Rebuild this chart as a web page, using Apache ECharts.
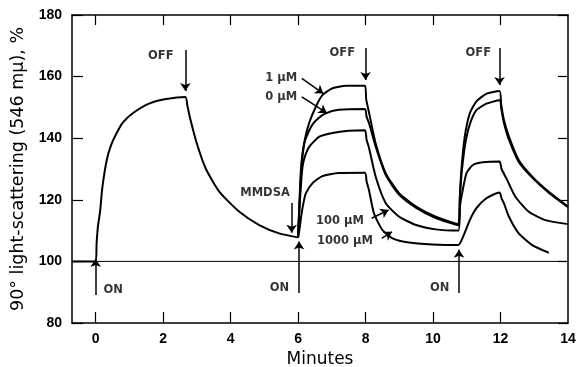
<!DOCTYPE html>
<html><head><meta charset="utf-8">
<script src="https://cdn.jsdelivr.net/npm/echarts@6/dist/echarts.min.js"></script>
<style>html,body{margin:0;padding:0;background:#fff}#c{width:577px;height:367px}</style>
</head><body><div id="c"></div>
<script>
// ---- data ----
const xTickValues = [0, 2, 4, 6, 8, 10, 12, 14];
const yTickValues = [80, 100, 120, 140, 160, 180];
const baseline = [[-0.7, 100], [14, 100]];
const firstCycle = [[-0.7,100],[0,100],[0.03,106],[0.07,111.5],[0.13,116],[0.2,124],[0.33,132.9],[0.45,137.5],[0.62,141.6],[0.8,145],[1.1,148.1],[1.6,151.3],[2.09,152.7],[2.66,153.4],
  [2.72,150.5],[2.8,146.5],[3.0,138.3],[3.27,130],[3.67,122.6],[4.26,116.1],[4.85,111.8],[5.44,109.1],[6.0,107.8]];
const curve1uM = [[6.0,107.8],[6.04,118],[6.08,127],[6.13,134],[6.2,139.5],[6.33,145],[6.53,150.3],[6.72,154],[7.02,156.2],[7.42,157],[7.98,157],
  [8.02,152.5],[8.1,148.5],[8.3,138.3],[8.6,128.6],[9.0,122.1],[9.5,117.8],[10.08,114.5],[10.75,112.1],
  [10.79,120],[10.84,129.7],[10.94,140.5],[11.09,148.1],[11.28,151.9],[11.58,154.4],[11.97,155.3],
  [12.02,151],[12.1,146],[12.25,140.5],[12.54,132.9],[12.94,127.5],[13.43,122.6],[14.0,117.8]];
const curve0uM = [[6.0,107.8],[6.04,119],[6.08,129],[6.13,135],[6.2,139],[6.33,142.5],[6.43,144.5],[6.6,146.5],[6.8,148],[7.2,149.2],[7.98,149.5],
  [8.03,147],[8.1,145],[8.3,137.3],[8.6,128],[9.0,121.6],[9.5,117.4],[10.08,114.1],[10.75,111.8],
  [10.8,122],[10.86,130],[10.96,138.5],[11.09,144.5],[11.28,149],[11.58,151.2],[11.97,152.3],
  [12.03,149],[12.1,145],[12.25,139.5],[12.54,132.3],[12.94,127.2],[13.43,122.3],[14.0,117.6]];
const curve100uM = [[6.0,107.8],[6.04,117],[6.08,124],[6.13,130.5],[6.2,134],[6.33,137.2],[6.63,140.5],[7.02,141.7],[7.5,142.4],[7.98,142.6],
  [8.03,139.5],[8.1,137],[8.3,127.5],[8.6,118.9],[9.0,114.5],[9.5,111.8],[10.08,110.4],[10.75,110],
  [10.8,118],[10.86,122],[10.99,128.6],[11.18,131.3],[11.48,132.2],[11.97,132.4],
  [12.03,130],[12.2,126.4],[12.44,121],[12.84,116.1],[13.33,113.4],[14.0,112.1]];
const curve1000uM = [[6.0,107.8],[6.05,111],[6.09,114.5],[6.16,119],[6.23,122.1],[6.43,125.4],[6.72,127.7],[7.2,128.7],[7.98,128.8],
  [8.03,126],[8.1,123.2],[8.25,115.6],[8.5,110.2],[8.8,107.5],[9.29,106.1],[9.98,105.5],[10.75,105.3],
  [10.89,108],[11.09,113.4],[11.28,117.2],[11.58,120.5],[11.97,122.4],
  [12.03,120.5],[12.1,118.9],[12.25,114.5],[12.54,109.1],[12.94,105.3],[13.43,102.8]];
// annotations: [x, y, text]
const annotTexts = [[1.93,166.7,'OFF'],[7.31,167.7,'OFF'],[11.34,167.7,'OFF'],
  [0.52,90.7,'ON'],[5.45,91.2,'ON'],[10.2,91.2,'ON'],[5.02,122.3,'MMDSA'],
  [5.5,159.5,'1 μM'],[5.5,153.4,'0 μM'],[7.24,113.1,'100 μM'],[7.39,106.6,'1000 μM']];
// arrows: [x1, y1, x2, y2] (tail -> head)
const arrows = [[2.66,168.6,2.66,155.3],[8.0,169.3,8.0,158.9],[11.97,169.3,11.97,157.3],
  [0,89.1,0,100.8],[6.03,89.7,6.03,106.5],[10.77,89.7,10.77,103.8],[5.81,119,5.81,109.3],
  [6.11,159.4,6.75,154.5],[6.11,153.4,6.85,148.2],[8.18,114,8.68,116.7],[8.48,107.5,8.78,109.6]];

const chart = echarts.init(document.getElementById('c'), null, {renderer:'canvas'});
const ink = '#000';
const lineSeries = (d, w) => ({type:'line', data:d, showSymbol:false, smooth:0.2, silent:true,
  lineStyle:{color:ink, width:w}, xAxisIndex:0, yAxisIndex:0, z:3});
chart.setOption({
  animation:false,
  grid:{left:72, right:9, top:15, bottom:44, containLabel:false, outerBoundsMode:'none'},
  xAxis:[
    {type:'value', min:-0.7, max:14, position:'bottom',
     name:'Minutes', nameLocation:'middle', nameGap:26,
     nameTextStyle:{fontFamily:'DejaVu Sans', fontSize:17, color:ink},
     axisLine:{show:true, onZero:false, lineStyle:{color:ink, width:1.5}},
     axisTick:{show:true, inside:true, length:11, lineStyle:{color:ink, width:1.2}, customValues:[0,2,4,6,8,10,12]},
     axisLabel:{show:true, margin:9, customValues:xTickValues, fontFamily:'Liberation Sans', fontWeight:'bold', fontSize:14, color:ink},
     splitLine:{show:false}},
    {type:'value', min:-0.7, max:14, position:'top',
     axisLine:{show:true, onZero:false, lineStyle:{color:ink, width:1.5}},
     axisTick:{show:true, inside:true, length:10, lineStyle:{color:ink, width:1.2}, customValues:[0,2,4,6,8,10,12]},
     axisLabel:{show:false}, splitLine:{show:false}}
  ],
  yAxis:[
    {type:'value', min:80, max:180, interval:20, position:'left',
     name:'90° light-scattering (546 mμ), %', nameLocation:'middle', nameGap:40,
     nameTextStyle:{fontFamily:'DejaVu Sans', fontSize:17.5, color:ink},
     axisLine:{show:true, onZero:false, lineStyle:{color:ink, width:1.5}},
     axisTick:{show:true, inside:true, length:11, lineStyle:{color:ink, width:1.2}},
     axisLabel:{show:true, margin:10, customValues:yTickValues, fontFamily:'Liberation Sans', fontWeight:'bold', fontSize:14, color:ink},
     splitLine:{show:false}},
    {type:'value', min:80, max:180, interval:20, position:'right',
     axisLine:{show:true, onZero:false, lineStyle:{color:ink, width:1.5}},
     axisTick:{show:true, inside:true, length:10, lineStyle:{color:ink, width:1.2}},
     axisLabel:{show:false}, splitLine:{show:false}}
  ],
  series:[
    {type:'line', data:baseline, showSymbol:false, silent:true, lineStyle:{color:ink, width:1}, z:2},
    lineSeries(firstCycle, 2),
    lineSeries(curve1uM, 2),
    lineSeries(curve0uM, 2),
    lineSeries(curve100uM, 2),
    lineSeries(curve1000uM, 2),
    {type:'scatter', data:annotTexts, symbolSize:0, silent:true, z:5,
     label:{show:true, position:'inside', formatter:p => p.data[2], fontFamily:'DejaVu Sans', fontWeight:'bold', fontSize:11.5, color:ink}},
    {type:'line', data:[], silent:true,
     markLine:{silent:true, symbol:['none','arrow'], symbolSize:8, label:{show:false},
       lineStyle:{color:ink, width:1.5, type:'solid'},
       data:arrows.map(a => [{coord:[a[0],a[1]]},{coord:[a[2],a[3]]}])}}
  ]
});
</script></body></html>
